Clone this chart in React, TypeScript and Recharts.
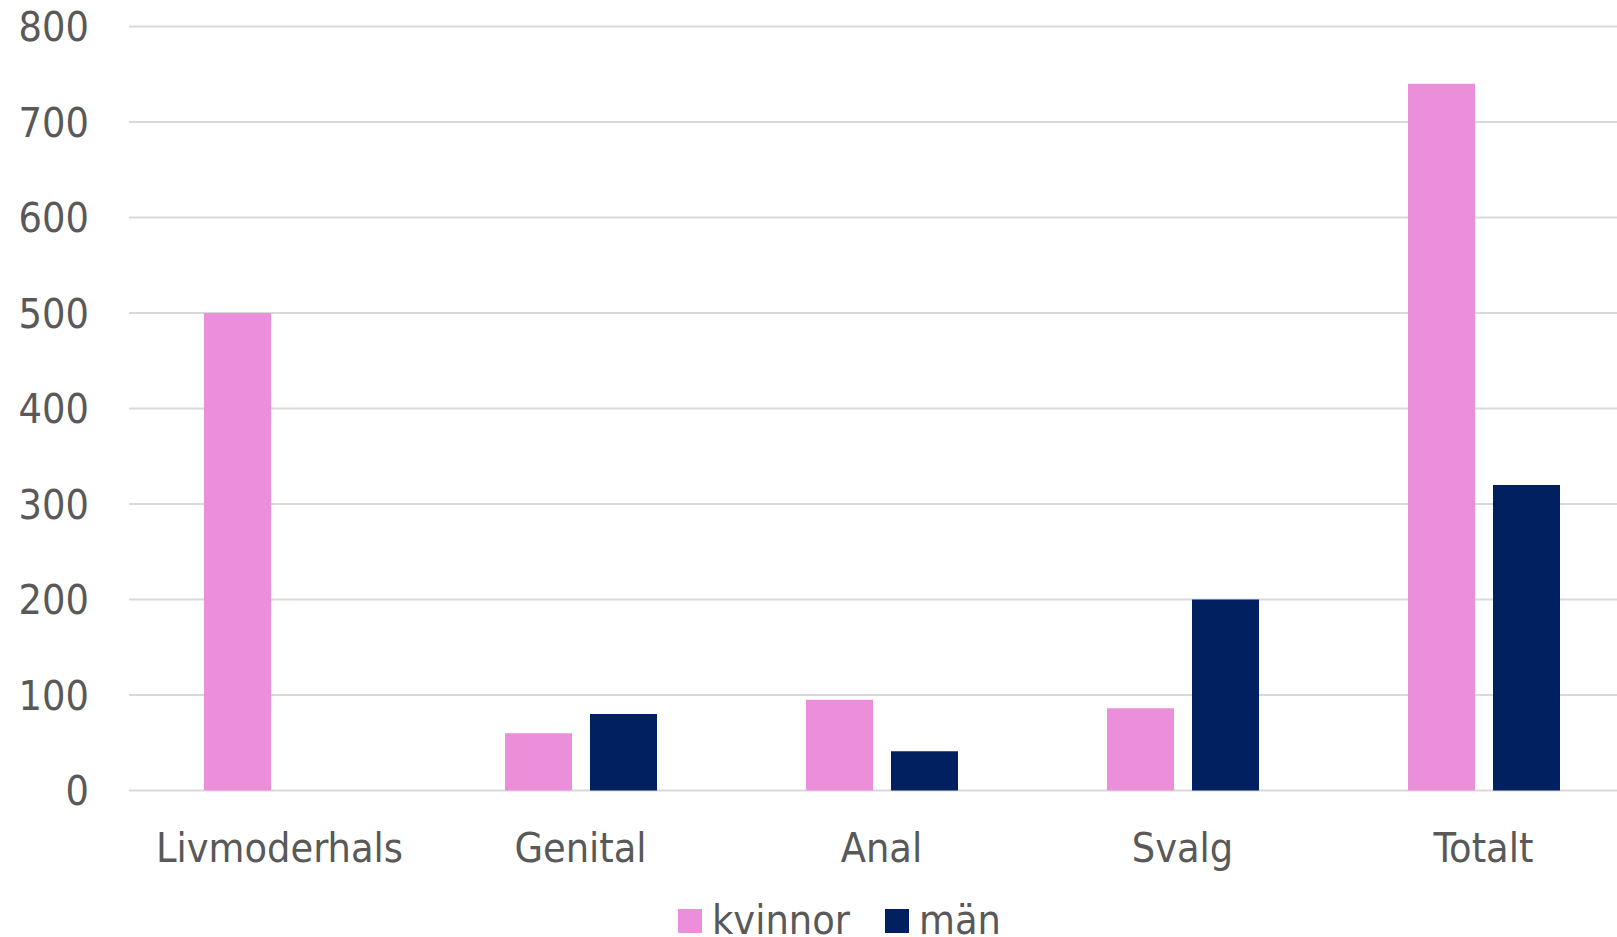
import React from "react";
import { BarChart, Bar, XAxis, YAxis, CartesianGrid } from "recharts";

// ==================== Data ====================

const categories = ["Livmoderhals", "Genital", "Anal", "Svalg", "Totalt"];
const kvinnor = [500, 60, 95, 86, 740];
const man = [0, 80, 41, 200, 320];
const yTicks = [0, 100, 200, 300, 400, 500, 600, 700, 800];

const seriesKeys = ["kvinnor", "män"];
const seriesColors = ["#EB8FDA", "#002060"];

const data = categories.map((name, i) => ({
    name,
    kvinnor: kvinnor[i],
    "män": man[i],
}));

// ==================== Styles ====================

const FONT = "'DejaVu Sans Condensed', 'DejaVu Sans', sans-serif";
const TEXT = "#595959";
const GRID = "#d9d9d9";
const tickStyle = { fill: TEXT, fontSize: 41, fontFamily: FONT };

// legend, drawn under the plot (Excel style)
const LegendRow: React.FC = () => {
    const starts = [678, 885];
    return (
        <svg width={1617} height={937} style={{ position: "absolute", left: 0, top: 0, pointerEvents: "none" }}>
            {seriesKeys.map((key, i) => (
                <g key={key}>
                    <rect x={starts[i]} y={909} width={24} height={24} fill={seriesColors[i]} />
                    <text x={starts[i] + 34} y={934} fontSize={41} fontFamily={FONT} fill={TEXT}>
                        {key}
                    </text>
                </g>
            ))}
        </svg>
    );
};

// ==================== Component ====================

const App: React.FC = () => {
    return (
        <div
            style={{
                position: "fixed",
                left: 0,
                top: 0,
                width: 1617,
                height: 937,
                overflow: "hidden",
                background: "#fff",
            }}
        >
            <BarChart
                width={1634}
                height={937}
                data={data}
                margin={{ top: 26.5, right: 0, bottom: 66.5, left: 0 }}
                barGap={18}
                style={{ fontFamily: FONT }}
            >
                <CartesianGrid vertical={false} stroke={GRID} strokeWidth={2} />
                <XAxis
                    dataKey="name"
                    height={80}
                    axisLine={false}
                    tickLine={false}
                    tickSize={0}
                    tickMargin={42}
                    tick={tickStyle}
                    interval={0}
                />
                <YAxis
                    width={129}
                    domain={[0, 800]}
                    ticks={yTicks}
                    axisLine={false}
                    tickLine={false}
                    tickSize={0}
                    tickMargin={40}
                    tick={tickStyle}
                />
                {seriesKeys.map((key, i) => (
                    <Bar
                        key={key}
                        dataKey={key}
                        fill={seriesColors[i]}
                        barSize={67}
                        isAnimationActive={false}
                    />
                ))}
            </BarChart>
            <LegendRow />
        </div>
    );
};

export default App;
